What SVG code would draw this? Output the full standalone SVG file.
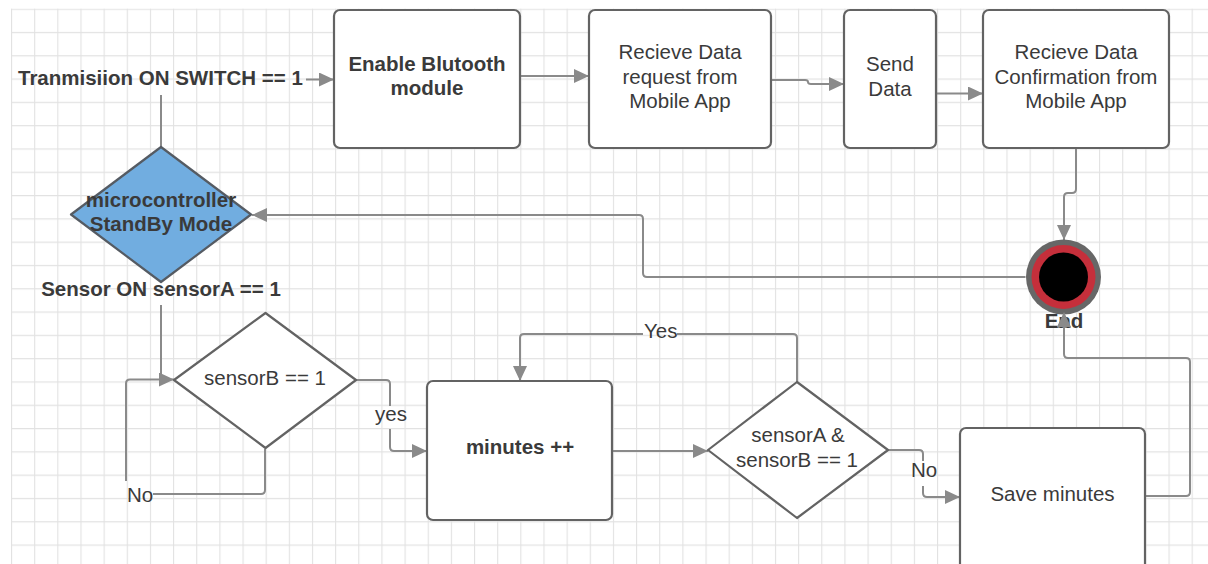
<svg xmlns="http://www.w3.org/2000/svg" width="1208" height="564" viewBox="0 0 1208 564">
  <style>
    .box { fill: #ffffff; stroke: #636363; stroke-width: 2.2; }
    .dia { fill: #ffffff; stroke: #636363; stroke-width: 2.2; stroke-linejoin: round; }
    .dia-blue { fill: #71ade0; stroke: #555b63; stroke-width: 2.2; stroke-linejoin: round; }
    .t { font-family: "Liberation Sans", Arial, sans-serif; font-size: 20.5px; fill: #3a3a3a; }
    .b { font-weight: bold; }
    .mid { text-anchor: middle; }
    .conn path { fill: none; stroke: #8a8a8a; stroke-width: 2; }
    .arrow { marker-end: url(#ah); }
  </style>
  <defs>
    <pattern id="grid" patternUnits="userSpaceOnUse" x="11" y="8.6" width="23.15" height="23.3">
      <path d="M0.5,0 V23.3 M0,0.5 H23.15" fill="none" stroke="#e2e2e2" stroke-width="1.2"/>
    </pattern>
    <marker id="ah" markerUnits="userSpaceOnUse" markerWidth="16" markerHeight="14" refX="15" refY="7" orient="auto" viewBox="0 0 16 14">
      <path d="M0,0 L15,7 L0,14 z" fill="#8a8a8a"/>
    </marker>
  </defs>

  <!-- canvas and grid -->
  <rect x="0" y="0" width="1208" height="564" fill="#ffffff"/>
  <rect x="11" y="8.6" width="1197" height="556" fill="url(#grid)"/>

  <!-- connectors -->
  <g id="connectors" class="conn">
    <path class="arrow" d="M306,79.5 H334"/>
    <path d="M161,95 V147"/>
    <path class="arrow" d="M520,76 H589"/>
    <path class="arrow" d="M771,80 H805 Q808,80 808,82 Q808,84 811,84 H844"/>
    <path class="arrow" d="M936,93.5 H983"/>
    <path class="arrow" d="M1076,148 V189 Q1076,193 1072,193 H1068 Q1064,193 1064,197 V240"/>
    <path class="arrow" d="M1025.5,277 H647 Q643,277 643,273 V219 Q643,215 639,215 H252"/>
    <path class="arrow" d="M1145,496 H1186 Q1190,496 1190,492 V362 Q1190,358 1186,358 H1068 Q1064,358 1064,354 V313"/>
    <path class="arrow" d="M161,305 V379.5 H174"/>
    <path d="M265,449 V490 Q265,494 261,494 H153"/>
    <path d="M126,481 V383.5 Q126,379.5 130,379.5 H165"/>
    <path d="M356,380 H386 Q390,380 390,384 V406"/>
    <path class="arrow" d="M390,429 V447 Q390,451 394,451 H427"/>
    <path class="arrow" d="M612,451 H708"/>
    <path d="M797,382 V338 Q797,334 793,334 H677"/>
    <path class="arrow" d="M643,334 H524 Q520,334 520,338 V381"/>
    <path d="M888,450 H919 Q923,450 923,454 V461"/>
    <path class="arrow" d="M923,486 V493 Q923,497 927,497 H960"/>
  </g>

  <!-- connector labels -->
  <g id="labels">
    <text class="t b" x="18" y="85">Tranmisiion ON SWITCH == 1</text>
    <text class="t b mid" x="161" y="296">Sensor ON sensorA == 1</text>
    <text class="t" x="375" y="421">yes</text>
    <text class="t" x="127" y="502">No</text>
    <text class="t" x="644" y="338">Yes</text>
    <text class="t" x="911" y="477">No</text>
  </g>

  <g id="enable-bt">
    <rect class="box" x="334" y="10" width="186" height="138" rx="6"/>
    <text class="t b mid" x="427" y="71">Enable Blutooth</text>
    <text class="t b mid" x="427" y="95">module</text>
  </g>

  <g id="recv-request">
    <rect class="box" x="589" y="10" width="182" height="138" rx="6"/>
    <text class="t mid" x="680" y="59">Recieve Data</text>
    <text class="t mid" x="680" y="84">request from</text>
    <text class="t mid" x="680" y="108">Mobile App</text>
  </g>

  <g id="send-data">
    <rect class="box" x="844" y="10" width="92" height="138" rx="6"/>
    <text class="t mid" x="890" y="71">Send</text>
    <text class="t mid" x="890" y="96">Data</text>
  </g>

  <g id="recv-confirm">
    <rect class="box" x="983" y="10" width="186" height="138" rx="6"/>
    <text class="t mid" x="1076" y="59">Recieve Data</text>
    <text class="t mid" x="1076" y="84">Confirmation from</text>
    <text class="t mid" x="1076" y="108">Mobile App</text>
  </g>

  <g id="standby">
    <polygon class="dia-blue" points="161,147 251,214.5 161,282 71,214.5"/>
    <text class="t b mid" x="161" y="207">microcontroller</text>
    <text class="t b mid" x="161" y="231">StandBy Mode</text>
  </g>

  <g id="end">
    <circle cx="1063.5" cy="277" r="37.5" fill="#676767"/>
    <circle cx="1063.5" cy="277" r="32" fill="#c52f3b"/>
    <circle cx="1063.5" cy="277" r="24.5" fill="#000000"/>
    <text class="t b mid" x="1064" y="328">End</text>
    <path d="M1057,327 L1064,312 L1071,327 z" fill="#8a8a8a"/>
  </g>

  <g id="sensorb-check">
    <polygon class="dia" points="265.5,313 356,380 265.5,448 174,380"/>
    <text class="t mid" x="265" y="385">sensorB == 1</text>
  </g>

  <g id="minutes-inc">
    <rect class="box" x="427" y="381" width="185" height="139" rx="6"/>
    <text class="t b mid" x="520" y="454">minutes ++</text>
  </g>

  <g id="both-check">
    <polygon class="dia" points="797,382 888,450 797,518 708,450"/>
    <text class="t mid" x="798" y="442">sensorA &amp;</text>
    <text class="t mid" x="797" y="467">sensorB == 1</text>
  </g>

  <g id="save-minutes">
    <rect class="box" x="960" y="428" width="185" height="150" rx="6"/>
    <text class="t mid" x="1052.5" y="501">Save minutes</text>
  </g>
</svg>
